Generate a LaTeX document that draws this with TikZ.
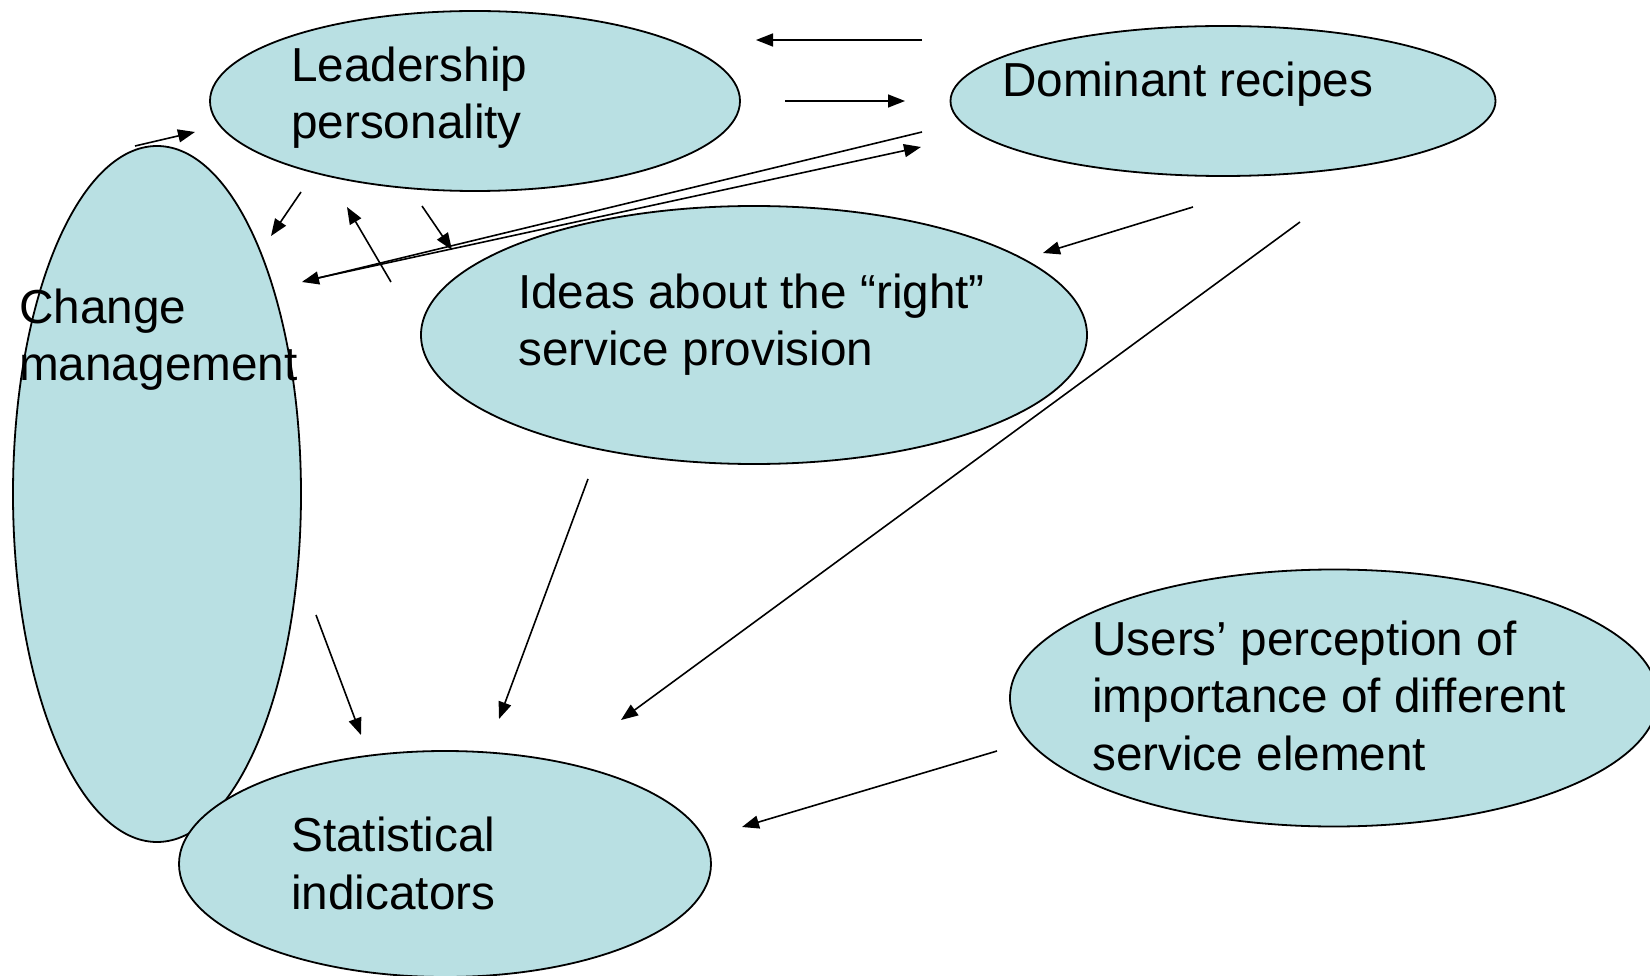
\documentclass[tikz,border=0pt]{standalone}
\usepackage{fontspec}
\setmainfont{Liberation Sans}
\usetikzlibrary{shapes.geometric,arrows.meta}
\definecolor{bubble}{RGB}{185,224,227}
\tikzset{
  bubble/.style={ellipse, draw=black, line width=1.8pt, fill=bubble, inner sep=0pt},
  % anchored at the baseline of the last line
  label/.style={anchor=base west, align=left, inner sep=0pt,
    font=\fontsize{47.7}{57.5}\selectfont},
  link/.style={line width=1.6pt, -{Triangle[length=17pt,width=13pt]}}
}
\begin{document}
\begin{tikzpicture}[x=1pt,y=-1pt]
\useasboundingbox (0,0) rectangle (1650,976);

% ellipses
\node[bubble, minimum width=530, minimum height=180] (lead) at (475,101) {};
\node[bubble, minimum width=545, minimum height=150] (dom) at (1223,101) {};
\node[bubble, minimum width=666, minimum height=258] (ideas) at (754,335) {};
\node[bubble, minimum width=648, minimum height=257] (users) at (1334,698) {};
\node[bubble, minimum width=288, minimum height=696] (change) at (157,494) {};
\node[bubble, minimum width=532, minimum height=226] (stat) at (445,864) {};

% texts
\node[label] (tlead) at (291,139) {Leadership\\personality};
\node[label] (tdom) at (1002,97) {Dominant recipes};
\node[label] (tchange) at (19,381) {Change\\management};
\node[label] (tideas) at (518,366) {Ideas about the “right”\\service provision};
\node[label] (tstat) at (291,909) {Statistical\\indicators};
\node[label] (tusers) at (1092,770) {Users’ perception of\\importance of different\\service element};

% arrow end points
\coordinate (a1s) at (922,40);   \coordinate (a1e) at (756,40);
\coordinate (a2s) at (785,101);  \coordinate (a2e) at (905,101);
\coordinate (a3s) at (922,132);  \coordinate (a3e) at (302,282);
\coordinate (a4s) at (304,281);  \coordinate (a4e) at (921,147);
\coordinate (a5s) at (301,192);  \coordinate (a5e) at (271,236);
\coordinate (a6s) at (391,282);  \coordinate (a6e) at (347,207);
\coordinate (a7s) at (422,206);  \coordinate (a7e) at (452,250);
\coordinate (a8s) at (135,146);  \coordinate (a8e) at (195,132);
\coordinate (a9s) at (1193,207); \coordinate (a9e) at (1043,253);
\coordinate (a10s) at (1300,222);\coordinate (a10e) at (621,720);
\coordinate (a11s) at (588,479); \coordinate (a11e) at (499,719);
\coordinate (a12s) at (316,615); \coordinate (a12e) at (361,735);
\coordinate (a13s) at (997,751); \coordinate (a13e) at (742,827);

% arrows
\foreach \i in {1,...,13}
  \draw[link] (a\i s) -- (a\i e);
\end{tikzpicture}
\end{document}
